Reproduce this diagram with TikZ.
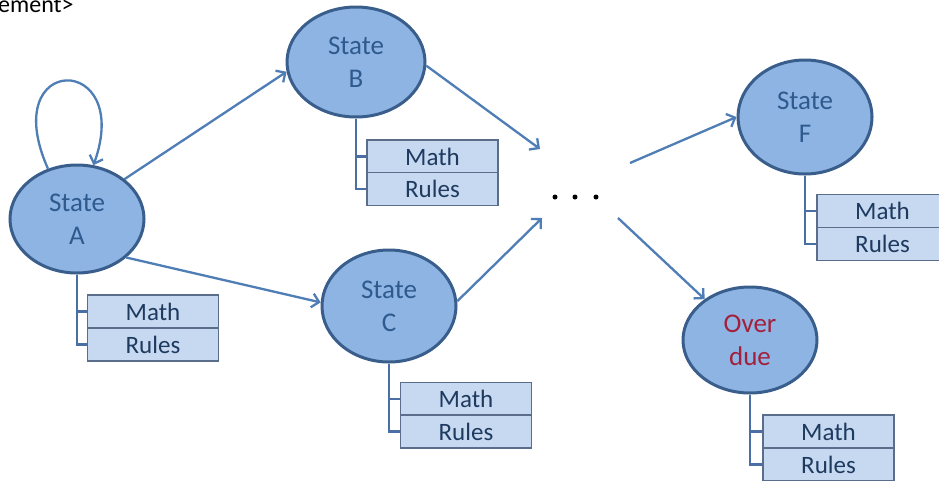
\documentclass[tikz,border=0pt]{standalone}
\usepackage{fontspec}
\setmainfont{Carlito}
\usetikzlibrary{shapes.geometric,arrows.meta}
\definecolor{efill}{HTML}{8EB4E3}
\definecolor{eborder}{HTML}{3A5E8C}
\definecolor{etext}{HTML}{2E5A8E}
\definecolor{bfill}{HTML}{C6D9F1}
\definecolor{bborder}{HTML}{5A6E8C}
\definecolor{btext}{HTML}{1F3A5F}
\definecolor{acolor}{HTML}{4F7DB5}
\definecolor{scolor}{HTML}{4A6FA5}
\definecolor{redtext}{HTML}{A3203C}
\begin{document}
\begin{tikzpicture}[x=1pt,y=-1pt,
  state/.style={ellipse, draw=eborder, line width=3pt, fill=efill, inner sep=0pt,
    text=etext, align=center, font=\fontsize{27}{33}\selectfont},
  infobox/.style={rectangle, draw=bborder, line width=1.4pt, fill=bfill,
    minimum width=131pt, minimum height=33pt, inner sep=0pt, text=btext,
    font=\fontsize{25}{28}\selectfont},
  arr/.style={draw=acolor, line width=2.3pt, -{Straight Barb[length=7pt,width=14pt]}},
  stem/.style={draw=scolor, line width=2.3pt},
  dotnode/.style={circle, fill=black, minimum size=5pt, inner sep=0pt}]
\useasboundingbox (0,0) rectangle (939,480);
\fill[white] (0,0) rectangle (939,480);

\node[anchor=base west, inner sep=0pt, font=\fontsize{24}{28}\selectfont] (title) at (-2,12) {ement>};

% states
\node[state, minimum width=134pt, minimum height=108pt] (A) at (77,219) {State\\A};
\node[state, minimum width=138pt, minimum height=110pt] (B) at (356,62) {State\\B};
\node[state, minimum width=134pt, minimum height=112pt] (C) at (389,306) {State\\C};
\node[state, minimum width=134pt, minimum height=114pt] (F) at (805,117) {State\\F};
\node[state, minimum width=134pt, minimum height=106pt, text=redtext] (O) at (750,340) {Over\\due};

% info boxes
\node[infobox] (Am) at (153,311.5) {Math};
\node[infobox] (Ar) at (153,344.5) {Rules};
\node[infobox] (Bm) at (432.5,156.5) {Math};
\node[infobox] (Br) at (432.5,189) {Rules};
\node[infobox] (Cm) at (466,399) {Math};
\node[infobox] (Cr) at (466,431.5) {Rules};
\node[infobox] (Fm) at (882.5,211) {Math};
\node[infobox] (Fr) at (882.5,244) {Rules};
\node[infobox] (Om) at (828.5,431.5) {Math};
\node[infobox] (Or) at (828.5,464.5) {Rules};

% stems
\foreach \s in {A,B,C,F,O}{
  \draw[stem] (\s.south) |- (\s r.west);
  \draw[stem] (\s.south |- \s m.west) -- (\s m.west);
}

% dots
\node[dotnode] (d1) at (555,197) {};
\node[dotnode] (d2) at (575,197) {};
\node[dotnode] (d3) at (596,197) {};
\coordinate (dB) at (540,149);
\coordinate (dC) at (542,218);
\coordinate (dF) at (630,163);
\coordinate (dO) at (618,218);

% arrows
\draw[arr] (A.120) .. controls (-4,52) and (134,52) .. (A.73);
\draw[arr] (A.40) -- (B.188);
\draw[arr] (A.-38) -- (C.177);
\draw[arr] (B.-3) -- (dB);
\draw[arr] (C.4) -- (dC);
\draw[arr] (dF) -- (F.180);
\draw[arr] (dO) -- (O.138);
\end{tikzpicture}
\end{document}
